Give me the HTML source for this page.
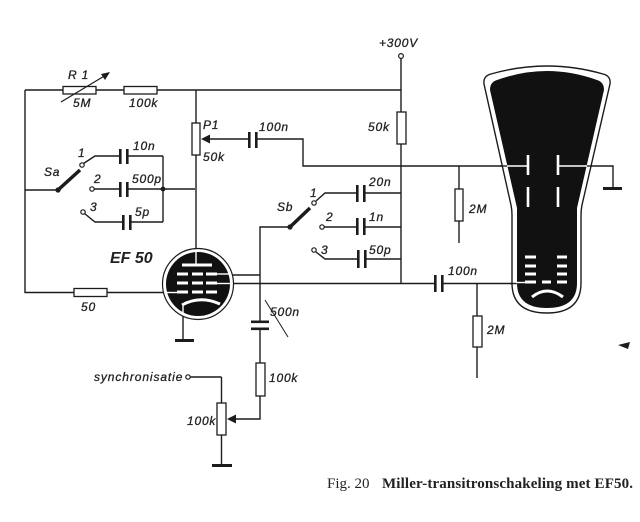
<!DOCTYPE html>
<html><head><meta charset="utf-8"><style>
html,body{margin:0;padding:0;background:#fff;}
svg{display:block;}
.l{font-family:"Liberation Sans",sans-serif;font-style:italic;font-size:12px;fill:#222;letter-spacing:0.8px;stroke:#222;stroke-width:0.3px;}
</style></head><body>
<svg width="640" height="522" viewBox="0 0 640 522" xmlns="http://www.w3.org/2000/svg">
<rect width="640" height="522" fill="#fff"/>
<g stroke="#1c1c1c" stroke-width="1.4" fill="none">
  <path d="M25,90 H401"/>
  <path d="M25,90 V292.5 H168"/>
  <path d="M25,190 H58"/>
  <path d="M83.5,163.5 L95,156 H120 M127,156 H163"/>
  <path d="M94,189 H120 M127,189 H195"/>
  <path d="M84.5,213.5 L95,222 H123 M130,222 H163"/>
  <path d="M163,156 V222"/>
  <path d="M196,90 V252"/>
  <path d="M209,139 H249 M256,139 H303 V166 H507"/>
  <path d="M401,58.5 V283.5"/>
  <path d="M459,166 V243"/>
  <path d="M586,166 H613 V188"/>
  <path d="M290,227 H260 V322"/>
  <path d="M316,201 L325,193 H357 M364,193 H401"/>
  <path d="M324.5,227 H357 M364,227 H401"/>
  <path d="M316,252 L325,259 H358 M365,259 H401"/>
  <path d="M229,275 H260"/>
  <path d="M229,283.5 H435 M443,283.5 H517"/>
  <path d="M477,283.5 V378"/>
  <path d="M183,311 V340"/>
  <path d="M260,329 V419 H234"/>
  <path d="M221.5,377 H190.5 M221.5,377 V465"/>
  <path d="M265,300 L288,337" stroke-width="1"/>
</g>
<g stroke="#1c1c1c" stroke-width="1.3" fill="#fff">
  <rect x="63" y="86.5" width="33" height="7.5"/>
  <rect x="124" y="86.5" width="33" height="7.5"/>
  <rect x="74" y="288.5" width="33" height="8"/>
  <rect x="192" y="123" width="8" height="32"/>
  <rect x="397" y="112" width="9" height="32"/>
  <rect x="455" y="189" width="8" height="32"/>
  <rect x="473" y="316" width="9" height="31"/>
  <rect x="256" y="363" width="9" height="33"/>
  <rect x="217" y="403" width="9" height="32"/>
</g>
<path d="M61,102 L106,75" stroke="#1c1c1c" stroke-width="1.2"/>
<polygon points="110,72 101,74 105,80" fill="#1c1c1c"/>
<polygon points="201,139 210,134.5 210,143.5" fill="#1c1c1c"/>
<polygon points="227,419 236,414.5 236,423.5" fill="#1c1c1c"/>
<g fill="#1c1c1c">
  <rect x="119" y="149" width="2.6" height="15"/><rect x="126" y="149" width="2.6" height="15"/>
  <rect x="119" y="182" width="2.6" height="15"/><rect x="126" y="182" width="2.6" height="15"/>
  <rect x="122" y="215" width="2.6" height="15"/><rect x="129" y="215" width="2.6" height="15"/>
  <rect x="248" y="132" width="2.6" height="16"/><rect x="255" y="132" width="2.6" height="16"/>
  <rect x="356" y="185" width="2.6" height="17"/><rect x="363" y="185" width="2.6" height="17"/>
  <rect x="356" y="218" width="2.6" height="17"/><rect x="363" y="218" width="2.6" height="17"/>
  <rect x="357" y="250" width="2.6" height="18"/><rect x="364" y="250" width="2.6" height="18"/>
  <rect x="434" y="275" width="2.6" height="17"/><rect x="441" y="275" width="2.6" height="17"/>
  <rect x="251" y="320.5" width="18" height="2.6"/><rect x="251" y="327.5" width="18" height="2.6"/>
  <rect x="175" y="339" width="19" height="3"/>
  <rect x="212" y="464" width="20" height="3"/>
  <rect x="603" y="187" width="19" height="3"/>
  <circle cx="163" cy="189" r="2.4"/>
  <circle cx="58" cy="190" r="2.6"/>
  <circle cx="290" cy="227" r="2.6"/>
  <polygon points="618,345 630,342 628,349"/>
</g>
<path d="M58,190 L80,170" stroke="#1c1c1c" stroke-width="3.5"/>
<path d="M290,227 L310,208" stroke="#1c1c1c" stroke-width="3.5"/>
<g stroke="#1c1c1c" stroke-width="1.2" fill="#fff">
  <circle cx="82" cy="165" r="2.2"/>
  <circle cx="92" cy="189" r="2.2"/>
  <circle cx="83" cy="212" r="2.2"/>
  <circle cx="314" cy="203" r="2.2"/>
  <circle cx="322" cy="227" r="2.2"/>
  <circle cx="314" cy="250" r="2.2"/>
  <circle cx="401" cy="56" r="2.4"/>
  <circle cx="188" cy="377" r="2.2"/>
</g>
<circle cx="198" cy="284" r="35.5" fill="#fff" stroke="#1c1c1c" stroke-width="1.2"/>
<circle cx="198" cy="284" r="32" fill="#111"/>
<g fill="#fff">
  <rect x="182" y="263.5" width="30" height="3"/>
  <rect x="177" y="272.5" width="11" height="3"/><rect x="192" y="272.5" width="11" height="3"/><rect x="206" y="272.5" width="11" height="3"/>
  <rect x="177" y="281.5" width="11" height="3"/><rect x="192" y="281.5" width="11" height="3"/><rect x="206" y="281.5" width="11" height="3"/>
  <rect x="177" y="290.5" width="11" height="3"/><rect x="192" y="290.5" width="11" height="3"/><rect x="206" y="290.5" width="11" height="3"/>
</g>
<g stroke="#fff" stroke-width="1.4" fill="none">
  <path d="M196,252 V265"/>
  <path d="M216,274 H231"/>
  <path d="M216,283.5 H231"/>
  <path d="M166,292.5 H178"/>
  <path d="M183,305 V313"/>
</g>
<path d="M182,305 Q200,295 220,304" stroke="#fff" stroke-width="3" fill="none"/>
<path d="M484,84 Q483,76 491,74 Q547,58 603,74 Q611,76 610,84 L582,205 Q581,210 581,215 L581,283 Q581,313 547,313 Q512,313 512,283 L512,215 Q512,210 511,205 Z" fill="#fff" stroke="#1c1c1c" stroke-width="1.4"/>
<path d="M490,90 Q490,82 497,80 Q547,62 597,80 Q604,82 604,90 L577,208 L577,283 Q577,308 547,308 Q517,308 517,283 L517,208 Z" fill="#111"/>
<g stroke="#1c1c1c" stroke-width="1.4">
  <path d="M500,166 H508"/>
  <path d="M584,166 H592"/>
  <path d="M510,283.5 H518"/>
</g>
<g stroke="#fff" stroke-width="1.4" fill="none">
  <path d="M507,166 H528"/>
  <path d="M558,166 H587"/>
  <path d="M516,282.5 H526"/>
</g>
<g stroke="#fff" stroke-width="2.6">
  <path d="M528,155 V175 M528,187 V207 M558,155 V175 M558,187 V207"/>
</g>
<g fill="#fff">
  <rect x="525" y="255.5" width="11" height="3"/><rect x="557" y="255.5" width="10" height="3"/>
  <rect x="525" y="264.5" width="11" height="3"/><rect x="557" y="264.5" width="10" height="3"/>
  <rect x="525" y="272.5" width="11" height="3"/><rect x="557" y="272.5" width="10" height="3"/>
  <rect x="525" y="280.5" width="11" height="3"/><rect x="542" y="280.5" width="9" height="3"/><rect x="557" y="280.5" width="10" height="3"/>
</g>
<path d="M532,297 Q547,285 563,297" stroke="#fff" stroke-width="3" fill="none"/>
<text class="l" x="68" y="79">R 1</text>
<text class="l" x="73" y="107">5M</text>
<text class="l" x="129" y="107">100k</text>
<text class="l" x="203" y="129">P1</text>
<text class="l" x="203" y="161">50k</text>
<text class="l" x="259" y="131">100n</text>
<text class="l" x="44" y="176">Sa</text>
<text class="l" x="78" y="157">1</text>
<text class="l" x="133" y="150">10n</text>
<text class="l" x="94" y="183">2</text>
<text class="l" x="132" y="183">500p</text>
<text class="l" x="90" y="211">3</text>
<text class="l" x="135" y="216">5p</text>
<text x="110" y="263" style="font-family:'Liberation Sans',sans-serif;font-style:italic;font-weight:bold;font-size:16px;fill:#222;">EF 50</text>
<text class="l" x="81" y="311">50</text>
<text class="l" x="270" y="316">500n</text>
<text class="l" x="94" y="381" style="letter-spacing:0.9px">synchronisatie</text>
<text class="l" x="269" y="382">100k</text>
<text class="l" x="187" y="425">100k</text>
<text class="l" x="379" y="47">+300V</text>
<text class="l" x="368" y="131">50k</text>
<text class="l" x="277" y="211">Sb</text>
<text class="l" x="310" y="197">1</text>
<text class="l" x="326" y="221">2</text>
<text class="l" x="321" y="254">3</text>
<text class="l" x="369" y="186">20n</text>
<text class="l" x="369" y="221">1n</text>
<text class="l" x="369" y="254">50p</text>
<text class="l" x="469" y="213">2M</text>
<text class="l" x="448" y="275">100n</text>
<text class="l" x="487" y="334">2M</text>
<text x="327" y="488" style="font-family:'Liberation Serif',serif;font-size:15px;fill:#222;">Fig. 20</text>
<text x="382" y="488" textLength="251" lengthAdjust="spacing" style="font-family:'Liberation Serif',serif;font-weight:bold;font-size:15px;fill:#222;">Miller-transitronschakeling met  EF50.</text>
</svg>
</body></html>
